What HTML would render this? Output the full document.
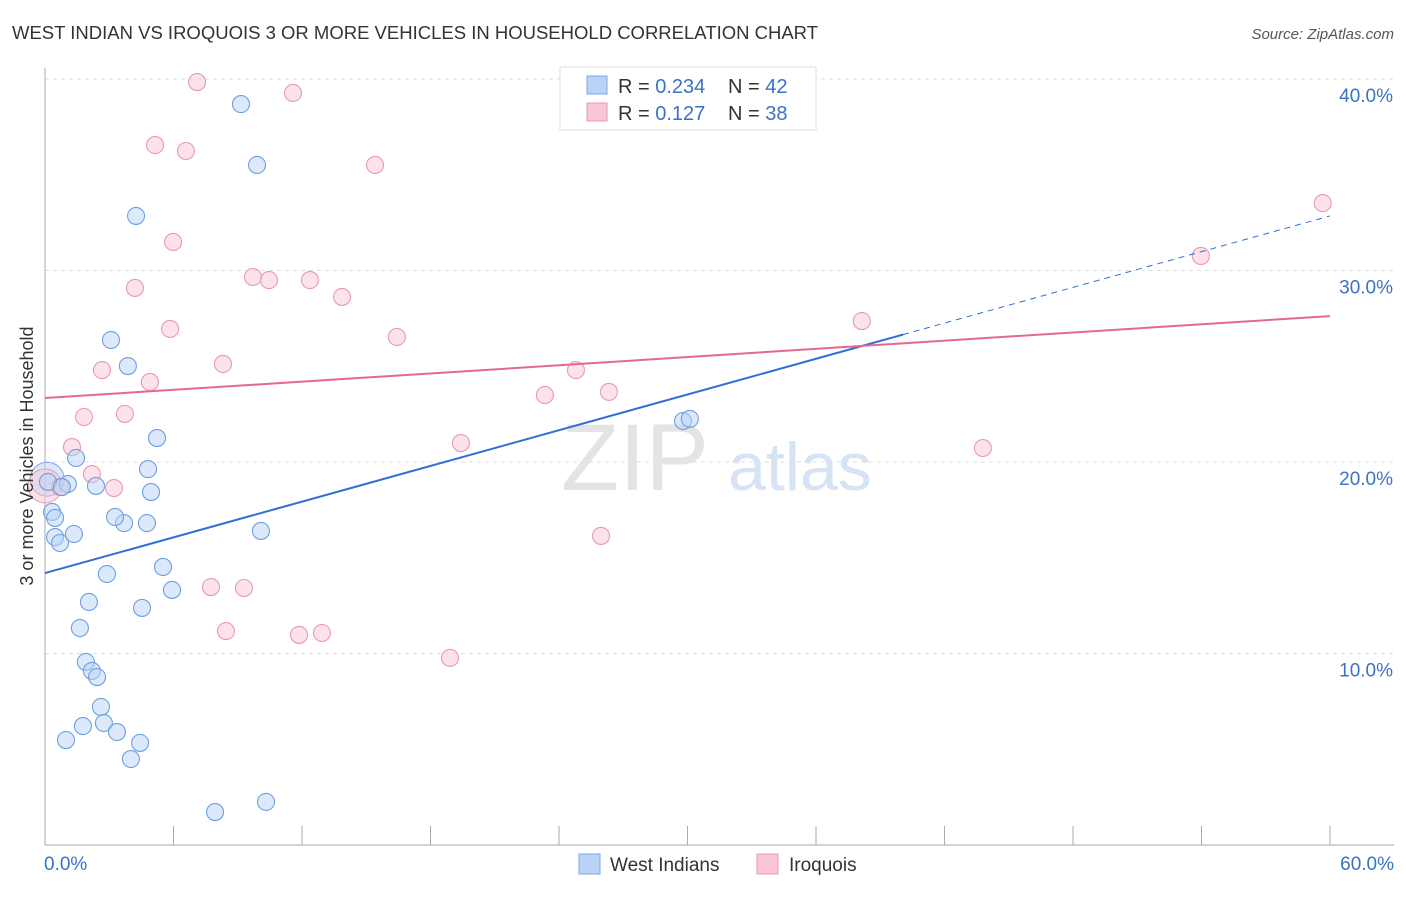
<!DOCTYPE html>
<html><head><meta charset="utf-8"><style>
body{margin:0;background:#fff;font-family:"Liberation Sans",sans-serif}
svg text{font-family:"Liberation Sans",sans-serif}
</style></head><body>
<svg id="chart" width="1406" height="892">
<text x="12" y="39" font-size="18" fill="#333" textLength="806" lengthAdjust="spacingAndGlyphs">WEST INDIAN VS IROQUOIS 3 OR MORE VEHICLES IN HOUSEHOLD CORRELATION CHART</text>
<text x="1394" y="39" font-size="15" font-style="italic" fill="#555" text-anchor="end">Source: ZipAtlas.com</text>
<g id="grid"></g>
<text x="635" y="490" font-size="95" font-family="Liberation Serif" fill="#e4e4e4" text-anchor="middle">ZIP</text>
<text x="800" y="490" font-size="68" fill="#d6e3f3" text-anchor="middle">atlas</text>
<g id="marks"></g>
<text transform="translate(33,456) rotate(-90)" font-size="18" fill="#333" text-anchor="middle">3 or more Vehicles in Household</text>
<g>
<rect x="560" y="67" width="256" height="63" fill="#fff" stroke="#ddd"/>
<rect x="587" y="76" width="20" height="18" fill="#b8d3f5" stroke="#7ba8e3"/>
<text x="618" y="93" font-size="20" fill="#333">R = <tspan fill="#3a72c8">0.234</tspan></text>
<text x="728" y="93" font-size="20" fill="#333">N = <tspan fill="#3a72c8">42</tspan></text>
<rect x="587" y="103" width="20" height="18" fill="#f9c6d5" stroke="#e89ab2"/>
<text x="618" y="120" font-size="20" fill="#333">R = <tspan fill="#3a72c8"> 0.127</tspan></text>
<text x="728" y="120" font-size="20" fill="#333">N = <tspan fill="#3a72c8">38</tspan></text>
</g>
<g>
<rect x="579" y="854" width="21" height="20" fill="#b8d3f5" stroke="#7ba8e3"/>
<text x="610" y="871" font-size="19" fill="#333">West Indians</text>
<rect x="757" y="854" width="21" height="20" fill="#f9c6d5" stroke="#e89ab2"/>
<text x="789" y="871" font-size="19" fill="#333">Iroquois</text>
</g>
</svg>
<script>
const yTicks=[10,20,30,40];
const yTickLabels=["10.0%","20.0%","30.0%","40.0%"];
const xTicks=[0,6,12,18,24,30,36,42,48,54,60];
const blueX=[0.14,0.33,0.47,0.47,0.70,1.07,0.79,1.35,1.45,2.38,3.08,3.87,4.25,5.23,4.81,4.95,4.76,3.69,3.27,2.89,2.05,1.63,1.91,2.19,2.43,2.61,2.75,1.77,0.98,3.36,4.44,4.01,4.53,5.51,5.93,9.15,9.90,10.08,10.32,7.94,29.79,30.11];
const blueY=[18.96,17.39,17.08,16.08,15.77,18.85,18.69,16.24,20.21,18.75,26.37,25.01,32.85,21.25,19.63,18.43,16.81,16.81,17.13,14.15,12.69,11.33,9.56,9.09,8.77,7.21,6.37,6.21,5.48,5.90,5.33,4.49,12.38,14.52,13.32,38.69,35.51,16.40,2.25,1.72,22.14,22.25];
const pinkX=[7.10,11.58,5.14,6.58,15.41,5.98,9.71,10.46,12.37,13.87,4.20,5.84,16.43,2.66,4.90,8.31,1.82,3.73,1.26,2.19,3.22,0.70,23.34,24.79,26.33,19.42,25.96,7.75,9.29,8.45,11.86,12.93,18.91,38.14,43.79,53.97,59.66];
const pinkY=[39.84,39.27,36.55,36.24,35.51,31.49,29.66,29.50,29.50,28.62,29.09,26.95,26.53,24.80,24.18,25.12,22.35,22.51,20.78,19.37,18.64,18.69,23.50,24.80,23.66,20.99,16.14,13.47,13.42,11.17,10.97,11.07,9.77,27.36,20.73,30.76,33.52];
const blueTrend=[14.2,32.85];
const pinkTrend=[23.34,27.62];
const blueSolidEnd=40.06;
const bigBlue=[0.1,19.1], bigPink=[0.0,18.75];

const NS="http://www.w3.org/2000/svg";
const sx=v=>45+v*21.417, sy=v=>845-v*19.15;
function mk(tag,attrs,parent){const e=document.createElementNS(NS,tag);for(const k in attrs)e.setAttribute(k,attrs[k]);parent.appendChild(e);return e;}
const grid=document.getElementById('grid'), marks=document.getElementById('marks');
yTicks.forEach((t,i)=>{
  const l=mk('line',{x1:45,x2:1394,y1:sy(t),y2:sy(t),stroke:'#ddd','stroke-dasharray':'4,4'},grid);
  
  
  const tx=mk('text',{x:1393,y:sy(t)+23,'font-size':19,fill:'#3a72c8','text-anchor':'end'},grid);
  tx.textContent=yTickLabels[i];
  
  
});
const ax=mk('line',{x1:45,x2:45,y1:68,y2:845,stroke:'#aaa'},grid);


const bx=mk('line',{x1:45,x2:1394,y1:845,y2:845,stroke:'#aaa'},grid);


xTicks.forEach(t=>{
  const l=mk('line',{x1:sx(t),x2:sx(t),y1:826,y2:845,stroke:'#aaa'},grid);
  
  
});
[[0,'0.0%','start',44],[60,'60.0%','end',1394]].forEach(a=>{
  const tx=mk('text',{x:a[3],y:870,'font-size':19,fill:'#3a72c8','text-anchor':a[2]},grid);
  tx.textContent=a[1];
  
  
});
function dots(X,Y,fill,stroke,name){
  X.forEach((x,i)=>{
    const c=mk('circle',{cx:sx(x),cy:sy(Y[i]),r:8.5,fill:fill,'fill-opacity':0.5,stroke:stroke,'stroke-width':1.1},marks);
    
    
  });
}
let c1=mk('circle',{cx:sx(bigBlue[0]),cy:sy(bigBlue[1]),r:17,fill:'#b8d3f5','fill-opacity':0.5,stroke:'#7ba8e3'},marks);


let c2=mk('circle',{cx:sx(bigPink[0]),cy:sy(bigPink[1]),r:17,fill:'#f9c6d5','fill-opacity':0.5,stroke:'#e89ab2'},marks);


dots(pinkX,pinkY,'#f9c6d5','#e89ab2','iroquois-point');
dots(blueX,blueY,'#b8d3f5','#6f9fe0','west-indians-point');
const bAt=x=>blueTrend[0]+(blueTrend[1]-blueTrend[0])*x/60;
let l1=mk('line',{x1:sx(0),y1:sy(bAt(0)),x2:sx(blueSolidEnd),y2:sy(bAt(blueSolidEnd)),stroke:'#2f6fd6','stroke-width':2},marks);


let l2=mk('line',{x1:sx(blueSolidEnd),y1:sy(bAt(blueSolidEnd)),x2:sx(60),y2:sy(bAt(60)),stroke:'#2f6fd6','stroke-width':1,'stroke-dasharray':'6,5'},marks);


let l3=mk('line',{x1:sx(0),y1:sy(pinkTrend[0]),x2:sx(60),y2:sy(pinkTrend[1]),stroke:'#e4688f','stroke-width':2},marks);


</script>
</body></html>
